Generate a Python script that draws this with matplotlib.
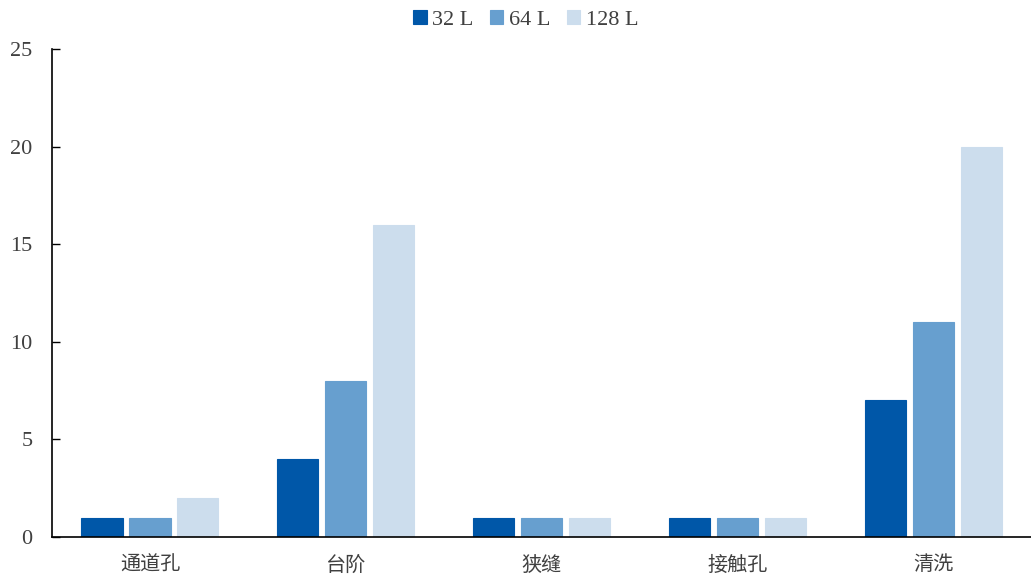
import matplotlib.pyplot as plt
import numpy as np

plt.rcParams['font.family'] = ['Liberation Serif', 'Noto Sans CJK SC']

categories = ['通道孔', '台阶', '狭缝', '接触孔', '清洗']
series_names = ['32 L', '64 L', '128 L']
values_32 = [1, 4, 1, 1, 7]
values_64 = [1, 8, 1, 1, 11]
values_128 = [2, 16, 1, 1, 20]
colors = ['#0057A8', '#679FCF', '#CCDDED']

fig = plt.figure(figsize=(10.31, 5.75), dpi=100)
ax = fig.add_axes([0.0505, 0.066, 0.9495, 0.849])

x = np.arange(len(categories))
width = 0.21
offset = 0.245
for i, (vals, name, c) in enumerate(zip([values_32, values_64, values_128], series_names, colors)):
    ax.bar(x + (i - 1) * offset, vals, width, color=c, label=name,
           edgecolor=c, linewidth=0.8, zorder=2)

ax.set_xlim(-0.5, 4.5)
ax.set_ylim(0, 25)
ax.set_yticks([0, 5, 10, 15, 20, 25])
ax.set_xticks(x)
ax.set_xticklabels(categories, fontsize=14.5, color='#404040')
ax.tick_params(axis='x', length=0, pad=14)
ax.tick_params(axis='y', direction='in', length=6, width=1, labelsize=16,
               labelcolor='#404040', pad=14)

ax.spines['top'].set_visible(False)
ax.spines['right'].set_visible(False)
ax.spines['left'].set_linewidth(1.2)
ax.spines['bottom'].set_linewidth(1.2)

ax.legend(loc='upper center', bbox_to_anchor=(0.484, 1.12), ncol=3, frameon=False,
          fontsize=16, handlelength=0.6, handleheight=0.6, handletextpad=0.25,
          columnspacing=0.75, labelcolor='#404040')

fig.savefig('out.png', dpi=100)
